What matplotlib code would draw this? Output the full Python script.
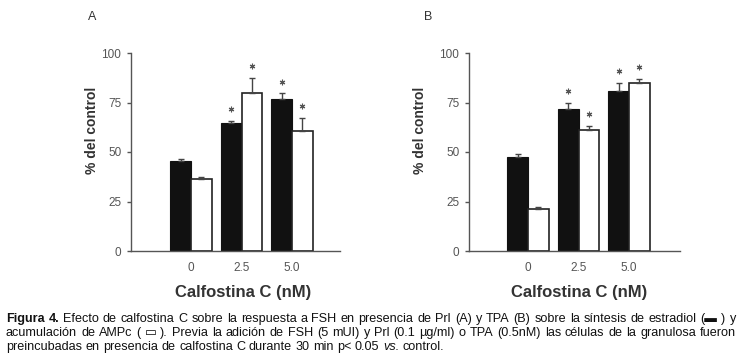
import matplotlib
matplotlib.use("Agg")
import matplotlib.pyplot as plt
import numpy as np

W, H = 743, 363

# ---------------- data ----------------
categories = ["0", "2.5", "5.0"]
yticks = [0, 25, 50, 75, 100]

a_estradiol = [45.6, 64.5, 76.6]
a_estradiol_err = [0.8, 1.2, 3.0]
a_ampc = [36.5, 79.6, 60.8]
a_ampc_err = [0.9, 7.6, 6.2]
a_estradiol_sig = [False, True, True]
a_ampc_sig = [False, True, True]

b_estradiol = [47.6, 71.5, 81.0]
b_estradiol_err = [1.4, 3.1, 3.7]
b_ampc = [21.2, 61.1, 85.0]
b_ampc_err = [0.8, 2.0, 1.7]
b_estradiol_sig = [False, True, True]
b_ampc_sig = [False, True, True]

xlabel = "Calfostina C (nM)"
ylabel = "% del control"

fig = plt.figure(figsize=(W / 100, H / 100), dpi=100)
fig.patch.set_facecolor("white")

SANS = ["Liberation Sans", "DejaVu Sans"]
AX_COLOR = "#555555"


def px_box(l, r, top, bot):
    return [l / W, 1 - bot / H, (r - l) / W, (bot - top) / H]


def panel(rect, xlim, e2, e2err, camp, camperr, e2sig, campsig, letter, letter_xy,
          ylabel_xy, xlabel_xy):
    ax = fig.add_axes(rect)
    x = np.arange(len(categories))
    w = 0.41
    ax.bar(x - w / 2, e2, w, color="#111111", edgecolor="#111111", linewidth=0.8, zorder=2)
    ax.bar(x + w / 2, camp, w, color="white", edgecolor="#222222", linewidth=1.2, zorder=2)
    ax.errorbar(x - w / 2, e2, yerr=[np.zeros(len(e2)), e2err], fmt="none",
                ecolor="#444444", elinewidth=1, capsize=2.5, capthick=1, zorder=3)
    ax.errorbar(x + w / 2, camp, yerr=[np.zeros(len(camp)), camperr], fmt="none",
                ecolor="#444444", elinewidth=1, capsize=2.5, capthick=1, zorder=3)
    for xi, v, er, s in zip(x - w / 2, e2, e2err, e2sig):
        if s:
            ax.plot(xi, v + er + 6, marker=(6, 2, 0), ms=4, color="#555555",
                    mew=0.8, clip_on=False, zorder=4)
    for xi, v, er, s in zip(x + w / 2, camp, camperr, campsig):
        if s:
            ax.plot(xi, v + er + 6, marker=(6, 2, 0), ms=4, color="#555555",
                    mew=0.8, clip_on=False, zorder=4)
    ax.set_xlim(*xlim)
    ax.set_ylim(0, 100)
    ax.set_yticks(yticks)
    ax.set_yticklabels([str(t) for t in yticks])
    ax.set_xticks(x)
    ax.set_xticklabels(categories)
    for s in ["top", "right"]:
        ax.spines[s].set_visible(False)
    for s in ["left", "bottom"]:
        ax.spines[s].set_color(AX_COLOR)
        ax.spines[s].set_linewidth(1.0)
    ax.tick_params(axis="y", length=3, width=1, color=AX_COLOR, labelcolor="#555555",
                   labelsize=8.5, pad=4, direction="out")
    ax.tick_params(axis="x", length=0, labelcolor="#555555", labelsize=8.5, pad=8)
    for t in ax.get_xticklabels() + ax.get_yticklabels():
        t.set_family(SANS)
    ax.set_facecolor("white")
    fig.text(letter_xy[0] / W, 1 - letter_xy[1] / H, letter, fontsize=9,
             color="#333333", family=SANS, ha="center", va="center")
    fig.text(ylabel_xy[0] / W, 1 - ylabel_xy[1] / H, ylabel, rotation=90,
             fontsize=10, fontweight="bold", color="#333333", family=SANS,
             ha="center", va="center")
    fig.text(xlabel_xy[0] / W, 1 - xlabel_xy[1] / H, xlabel, fontsize=12,
             fontweight="bold", color="#333333", family=SANS, ha="center", va="center")
    return ax


panel(px_box(131, 340, 53, 251), (-1.19, 2.95), a_estradiol, a_estradiol_err,
      a_ampc, a_ampc_err, a_estradiol_sig, a_ampc_sig, "A", (92, 17), (92, 130), (243, 292))
panel(px_box(469, 680, 53, 251), (-1.17, 3.01), b_estradiol, b_estradiol_err,
      b_ampc, b_ampc_err, b_estradiol_sig, b_ampc_sig, "B", (428, 17), (420, 130), (579, 292))

# ---------------- caption (justified) ----------------
cap_lines = [
    [("Figura", "bold", "normal"), ("4.", "bold", "normal")]
    + [(t, "normal", "normal") for t in
       "Efecto de calfostina C sobre la respuesta a FSH en presencia de Prl (A) y TPA (B) sobre la síntesis de estradiol (\u25ac ) y".split(" ")],
    [(t, "normal", "normal") for t in
     "acumulación de AMPc ( \u25ad ). Previa la adición de FSH (5 mUI) y Prl (0.1 µg/ml) o TPA (0.5nM) las células de la granulosa fueron".split(" ")],
    [(t, "normal", "normal") for t in
     "preincubadas en presencia de calfostina C durante 30 min p< 0.05".split(" ")]
    + [("vs.", "normal", "italic"), ("control.", "normal", "normal")],
]
cap_baselines = [322, 336, 350]
cap_justify = [True, True, False]
X0, X1 = 6, 736

renderer = fig.canvas.get_renderer()


def measure(t, size, wt="normal", st="normal"):
    o = fig.text(0, 0, t, fontsize=size, fontweight=wt, fontstyle=st, family=SANS)
    wpx = o.get_window_extent(renderer).width
    o.remove()
    return wpx


# fit font size so line 1 natural width ~ 722 px
base = 10.0
sp = measure("x x", base) - measure("xx", base)
nat = sum(measure(t, base, wt, st) for t, wt, st in cap_lines[0]) + sp * (len(cap_lines[0]) - 1)
size = base * 722 / nat
space = measure("x x", size) - measure("xx", size)

for words, yb, just in zip(cap_lines, cap_baselines, cap_justify):
    widths = [measure(t, size, wt, st) for t, wt, st in words]
    if just:
        gap = (X1 - X0 - sum(widths)) / (len(words) - 1)
    else:
        gap = space
    xpos = X0
    for (t, wt, st), wd in zip(words, widths):
        fig.text(xpos / W, 1 - yb / H, t, fontsize=size, fontweight=wt, fontstyle=st,
                 family=SANS, color="#111111", ha="left", va="baseline")
        xpos += wd + gap

fig.savefig("out.png", dpi=100, facecolor="white")
